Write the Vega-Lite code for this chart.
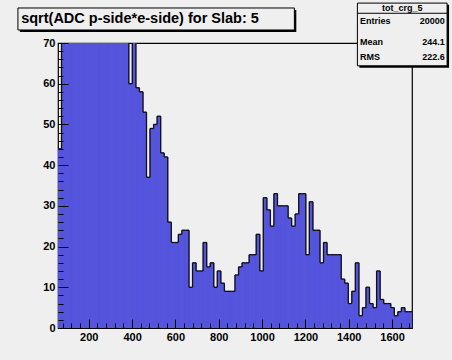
{
  "$schema": "https://vega.github.io/schema/vega-lite/v6.json",
  "width": 354,
  "height": 285,
  "autosize": {"type": "none"},
  "padding": {"left": 58, "top": 43, "right": 40, "bottom": 32},
  "background": "#efefef",
  "config": {
    "view": {"stroke": "#000000", "strokeWidth": 1.2, "fill": "#efefef"},
    "font": "Liberation Sans"
  },
  "resolve": {"axis": {"x": "independent", "y": "independent"}},
  "datasets": {
    "hist": [
      {"lo": 58.0, "hi": 74.3, "n": 44},
      {"lo": 74.3, "hi": 90.7, "n": 420},
      {"lo": 90.7, "hi": 107.0, "n": 980},
      {"lo": 107.0, "hi": 123.4, "n": 1350},
      {"lo": 123.4, "hi": 139.7, "n": 1500},
      {"lo": 139.7, "hi": 156.0, "n": 1480},
      {"lo": 156.0, "hi": 172.4, "n": 1400},
      {"lo": 172.4, "hi": 188.7, "n": 1300},
      {"lo": 188.7, "hi": 205.1, "n": 1200},
      {"lo": 205.1, "hi": 221.4, "n": 1120},
      {"lo": 221.4, "hi": 237.7, "n": 1050},
      {"lo": 237.7, "hi": 254.1, "n": 980},
      {"lo": 254.1, "hi": 270.4, "n": 900},
      {"lo": 270.4, "hi": 286.8, "n": 820},
      {"lo": 286.8, "hi": 303.1, "n": 720},
      {"lo": 303.1, "hi": 319.4, "n": 600},
      {"lo": 319.4, "hi": 335.8, "n": 450},
      {"lo": 335.8, "hi": 352.1, "n": 300},
      {"lo": 352.1, "hi": 368.5, "n": 180},
      {"lo": 368.5, "hi": 384.8, "n": 95},
      {"lo": 384.8, "hi": 401.1, "n": 60},
      {"lo": 401.1, "hi": 417.5, "n": 78},
      {"lo": 417.5, "hi": 433.8, "n": 59},
      {"lo": 433.8, "hi": 450.2, "n": 58},
      {"lo": 450.2, "hi": 466.5, "n": 53},
      {"lo": 466.5, "hi": 482.8, "n": 37},
      {"lo": 482.8, "hi": 499.2, "n": 49},
      {"lo": 499.2, "hi": 515.5, "n": 50},
      {"lo": 515.5, "hi": 531.9, "n": 52},
      {"lo": 531.9, "hi": 548.2, "n": 43},
      {"lo": 548.2, "hi": 564.5, "n": 42},
      {"lo": 564.5, "hi": 580.9, "n": 26},
      {"lo": 580.9, "hi": 597.2, "n": 21},
      {"lo": 597.2, "hi": 613.6, "n": 21},
      {"lo": 613.6, "hi": 629.9, "n": 23},
      {"lo": 629.9, "hi": 646.2, "n": 24},
      {"lo": 646.2, "hi": 662.6, "n": 24},
      {"lo": 662.6, "hi": 678.9, "n": 10},
      {"lo": 678.9, "hi": 695.3, "n": 16},
      {"lo": 695.3, "hi": 711.6, "n": 14},
      {"lo": 711.6, "hi": 727.9, "n": 14},
      {"lo": 727.9, "hi": 744.3, "n": 21},
      {"lo": 744.3, "hi": 760.6, "n": 15},
      {"lo": 760.6, "hi": 777.0, "n": 16},
      {"lo": 777.0, "hi": 793.3, "n": 10},
      {"lo": 793.3, "hi": 809.6, "n": 14},
      {"lo": 809.6, "hi": 826.0, "n": 11},
      {"lo": 826.0, "hi": 842.3, "n": 9},
      {"lo": 842.3, "hi": 858.7, "n": 9},
      {"lo": 858.7, "hi": 875.0, "n": 9},
      {"lo": 875.0, "hi": 891.3, "n": 13},
      {"lo": 891.3, "hi": 907.7, "n": 15},
      {"lo": 907.7, "hi": 924.0, "n": 16},
      {"lo": 924.0, "hi": 940.4, "n": 16},
      {"lo": 940.4, "hi": 956.7, "n": 18},
      {"lo": 956.7, "hi": 973.0, "n": 18},
      {"lo": 973.0, "hi": 989.4, "n": 23},
      {"lo": 989.4, "hi": 1005.7, "n": 14},
      {"lo": 1005.7, "hi": 1022.1, "n": 32},
      {"lo": 1022.1, "hi": 1038.4, "n": 29},
      {"lo": 1038.4, "hi": 1054.7, "n": 25},
      {"lo": 1054.7, "hi": 1071.1, "n": 33},
      {"lo": 1071.1, "hi": 1087.4, "n": 30},
      {"lo": 1087.4, "hi": 1103.8, "n": 30},
      {"lo": 1103.8, "hi": 1120.1, "n": 30},
      {"lo": 1120.1, "hi": 1136.4, "n": 27},
      {"lo": 1136.4, "hi": 1152.8, "n": 25},
      {"lo": 1152.8, "hi": 1169.1, "n": 28},
      {"lo": 1169.1, "hi": 1185.5, "n": 33},
      {"lo": 1185.5, "hi": 1201.8, "n": 33},
      {"lo": 1201.8, "hi": 1218.1, "n": 18},
      {"lo": 1218.1, "hi": 1234.5, "n": 31},
      {"lo": 1234.5, "hi": 1250.8, "n": 24},
      {"lo": 1250.8, "hi": 1267.2, "n": 24},
      {"lo": 1267.2, "hi": 1283.5, "n": 16},
      {"lo": 1283.5, "hi": 1299.8, "n": 21},
      {"lo": 1299.8, "hi": 1316.2, "n": 18},
      {"lo": 1316.2, "hi": 1332.5, "n": 18},
      {"lo": 1332.5, "hi": 1348.9, "n": 18},
      {"lo": 1348.9, "hi": 1365.2, "n": 18},
      {"lo": 1365.2, "hi": 1381.5, "n": 12},
      {"lo": 1381.5, "hi": 1397.9, "n": 11},
      {"lo": 1397.9, "hi": 1414.2, "n": 6},
      {"lo": 1414.2, "hi": 1430.6, "n": 9},
      {"lo": 1430.6, "hi": 1446.9, "n": 16},
      {"lo": 1446.9, "hi": 1463.2, "n": 3},
      {"lo": 1463.2, "hi": 1479.6, "n": 5},
      {"lo": 1479.6, "hi": 1495.9, "n": 10},
      {"lo": 1495.9, "hi": 1512.3, "n": 6},
      {"lo": 1512.3, "hi": 1528.6, "n": 5},
      {"lo": 1528.6, "hi": 1544.9, "n": 14},
      {"lo": 1544.9, "hi": 1561.3, "n": 7},
      {"lo": 1561.3, "hi": 1577.6, "n": 6},
      {"lo": 1577.6, "hi": 1594.0, "n": 6},
      {"lo": 1594.0, "hi": 1610.3, "n": 5},
      {"lo": 1610.3, "hi": 1626.6, "n": 3},
      {"lo": 1626.6, "hi": 1643.0, "n": 4},
      {"lo": 1643.0, "hi": 1659.3, "n": 5},
      {"lo": 1659.3, "hi": 1675.7, "n": 4},
      {"lo": 1675.7, "hi": 1692.0, "n": 4}
    ]
  },
  "layer": [
    {
      "data": {"name": "hist"},
      "mark": {"type": "bar", "clip": true, "color": "#5454dc", "stroke": "#5454dc", "strokeWidth": 1},
      "encoding": {
        "x": {
          "field": "lo", "type": "quantitative",
          "scale": {"domain": [58, 1692], "nice": false, "zero": false},
          "axis": {
            "orient": "bottom",
            "title": null, "grid": false, "domain": false, "zindex": 1,
            "values": [200, 400, 600, 800, 1000, 1200, 1400, 1600],
            "format": "d",
            "labelOverlap": false, "labelFlush": false,
            "tickColor": "#000000", "tickWidth": 1, "tickSize": -9,
            "labelFont": "Liberation Sans", "labelFontWeight": "bold", "labelFontSize": 11, "labelColor": "#000000",
            "labelPadding": 12
          }
        },
        "x2": {"field": "hi"},
        "y": {
          "field": "n", "type": "quantitative",
          "scale": {"domain": [0, 70], "nice": false},
          "axis": {
            "orient": "left",
            "title": null, "grid": false, "domain": false, "zindex": 1,
            "values": [0, 10, 20, 30, 40, 50, 60, 70],
            "labelOverlap": false, "labelFlush": false,
            "tickColor": "#000000", "tickWidth": 1, "tickSize": -10,
            "labelFont": "Liberation Sans", "labelFontWeight": "bold", "labelFontSize": 11, "labelColor": "#000000",
            "labelPadding": 13
          }
        },
        "y2": {"datum": 0}
      }
    },
    {
      "data": {"name": "hist"},
      "mark": {"type": "rule", "clip": true, "color": "#111111", "strokeWidth": 1.3},
      "encoding": {
        "x": {
          "field": "lo", "type": "quantitative",
          "axis": {
            "orient": "bottom",
            "title": null, "grid": false, "domain": false, "labels": false, "zindex": 1,
            "values": [80,120,160,240,280,320,360,440,480,520,560,640,680,720,760,840,880,920,960,1040,1080,1120,1160,1240,1280,1320,1360,1440,1480,1520,1560,1640,1680],
            "tickColor": "#000000", "tickWidth": 1, "tickSize": -5
          }
        },
        "x2": {"field": "hi"},
        "y": {
          "field": "n", "type": "quantitative",
          "axis": {
            "orient": "left",
            "title": null, "grid": false, "domain": false, "labels": false, "zindex": 1,
            "values": [2,4,6,8,12,14,16,18,22,24,26,28,32,34,36,38,42,44,46,48,52,54,56,58,62,64,66,68],
            "tickColor": "#000000", "tickWidth": 1, "tickSize": -5
          }
        }
      }
    },
    {
      "data": {"name": "hist"},
      "transform": [
        {"window": [{"op": "lag", "field": "n", "as": "prev"}], "sort": [{"field": "lo", "order": "ascending"}]}
      ],
      "mark": {"type": "rule", "clip": true, "color": "#111111", "strokeWidth": 1.3},
      "encoding": {
        "x": {"field": "lo", "type": "quantitative", "axis": null},
        "y": {"field": "prev", "type": "quantitative", "axis": null},
        "y2": {"field": "n"}
      }
    },
    {
      "data": {"values": [{}]},
      "mark": {"type": "rect", "fill": "#000000"},
      "encoding": {
        "x": {"datum": -118, "axis": null}, "x2": {"datum": 1158},
        "y": {"datum": 78.1, "axis": null}, "y2": {"datum": 72.7}
      }
    },
    {
      "data": {"values": [{}]},
      "mark": {"type": "rect", "fill": "#efefef", "stroke": "#000000", "strokeWidth": 1},
      "encoding": {
        "x": {"datum": -127, "axis": null}, "x2": {"datum": 1149},
        "y": {"datum": 78.6, "axis": null}, "y2": {"datum": 73.2}
      }
    },
    {
      "data": {"values": [{}]},
      "mark": {"type": "text", "align": "left", "baseline": "middle", "font": "Liberation Sans", "fontWeight": "bold", "fontSize": 14.5, "color": "#000000"},
      "encoding": {
        "x": {"datum": -112, "axis": null}, "y": {"datum": 75.9, "axis": null},
        "text": {"value": "sqrt(ADC p-side*e-side) for Slab: 5"}
      }
    },
    {
      "data": {"values": [{}]},
      "mark": {"type": "rect", "fill": "#000000"},
      "encoding": {
        "x": {"datum": 1449, "axis": null}, "x2": {"datum": 1863},
        "y": {"datum": 79.4, "axis": null}, "y2": {"datum": 63.9}
      }
    },
    {
      "data": {"values": [{}]},
      "mark": {"type": "rect", "fill": "#efefef", "stroke": "#000000", "strokeWidth": 1},
      "encoding": {
        "x": {"datum": 1440, "axis": null}, "x2": {"datum": 1854},
        "y": {"datum": 79.8, "axis": null}, "y2": {"datum": 64.4}
      }
    },
    {
      "data": {"values": [{}]},
      "mark": {"type": "rule", "color": "#000000", "strokeWidth": 1},
      "encoding": {
        "x": {"datum": 1440, "axis": null}, "x2": {"datum": 1854},
        "y": {"datum": 77.3, "axis": null}
      }
    },
    {
      "data": {"values": [{}]},
      "mark": {"type": "text", "align": "center", "baseline": "middle", "font": "Liberation Sans", "fontWeight": "bold", "fontSize": 9, "color": "#000000"},
      "encoding": {
        "x": {"datum": 1647, "axis": null}, "y": {"datum": 78.6, "axis": null},
        "text": {"value": "tot_crg_5"}
      }
    },
    {
      "data": {"values": [{}]},
      "mark": {"type": "text", "align": "left", "baseline": "middle", "font": "Liberation Sans", "fontWeight": "bold", "fontSize": 9, "color": "#000000"},
      "encoding": {
        "x": {"datum": 1452, "axis": null}, "y": {"datum": 75.3, "axis": null},
        "text": {"value": "Entries"}
      }
    },
    {
      "data": {"values": [{}]},
      "mark": {"type": "text", "align": "right", "baseline": "middle", "font": "Liberation Sans", "fontWeight": "bold", "fontSize": 9, "color": "#000000"},
      "encoding": {
        "x": {"datum": 1843, "axis": null}, "y": {"datum": 75.3, "axis": null},
        "text": {"value": "20000"}
      }
    },
    {
      "data": {"values": [{}]},
      "mark": {"type": "text", "align": "left", "baseline": "middle", "font": "Liberation Sans", "fontWeight": "bold", "fontSize": 9, "color": "#000000"},
      "encoding": {
        "x": {"datum": 1452, "axis": null}, "y": {"datum": 70.3, "axis": null},
        "text": {"value": "Mean"}
      }
    },
    {
      "data": {"values": [{}]},
      "mark": {"type": "text", "align": "right", "baseline": "middle", "font": "Liberation Sans", "fontWeight": "bold", "fontSize": 9, "color": "#000000"},
      "encoding": {
        "x": {"datum": 1843, "axis": null}, "y": {"datum": 70.3, "axis": null},
        "text": {"value": "244.1"}
      }
    },
    {
      "data": {"values": [{}]},
      "mark": {"type": "text", "align": "left", "baseline": "middle", "font": "Liberation Sans", "fontWeight": "bold", "fontSize": 9, "color": "#000000"},
      "encoding": {
        "x": {"datum": 1452, "axis": null}, "y": {"datum": 66.6, "axis": null},
        "text": {"value": "RMS"}
      }
    },
    {
      "data": {"values": [{}]},
      "mark": {"type": "text", "align": "right", "baseline": "middle", "font": "Liberation Sans", "fontWeight": "bold", "fontSize": 9, "color": "#000000"},
      "encoding": {
        "x": {"datum": 1843, "axis": null}, "y": {"datum": 66.6, "axis": null},
        "text": {"value": "222.6"}
      }
    }
  ]
}
